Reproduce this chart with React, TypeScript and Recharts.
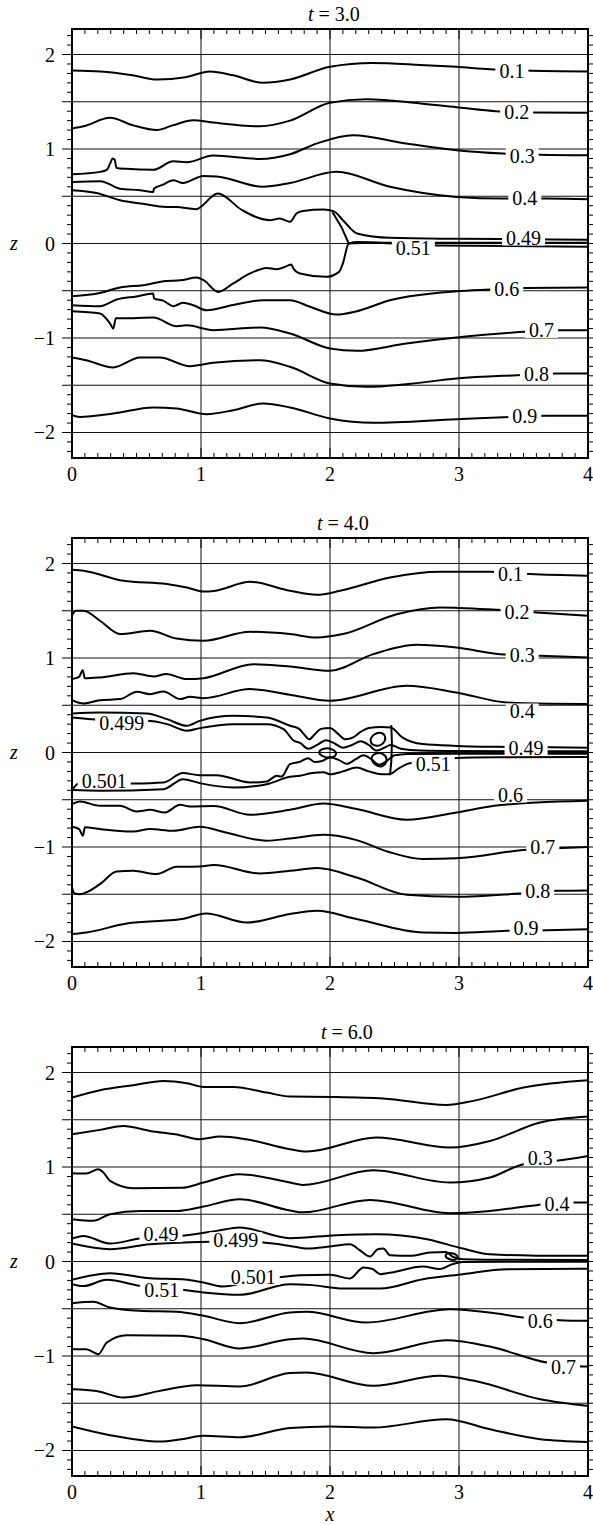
import React from "react";
import {
  LineChart,
  Line,
  XAxis,
  YAxis,
  ReferenceLine,
  ReferenceDot,
  ReferenceArea,
} from "recharts";

type Pt = [number, number];
type Curve = { id: string; pts: Pt[]; kind?: "monotone" | "linear" | "basisClosed" };
type Tag = { t: string; x: number; z: number };

// axis ticks / labels
const xLabels = [0, 1, 2, 3, 4];
const zLabels = [-2, -1, 0, 1, 2];
const gridX = [1, 2, 3];
const gridZ = [-2, -1.5, -1, -0.5, 0, 0.5, 1, 1.5, 2];
const Z_MAX = 2.27;

// ---------- t = 3.0 ----------
const t3_01: Pt[] = [[0, 1.83], [0.22, 1.82], [0.47, 1.78], [0.66, 1.735], [0.88, 1.76], [1.07, 1.82], [1.25, 1.78], [1.48, 1.7], [1.69, 1.735], [2.0, 1.87], [2.33, 1.91], [2.7, 1.89], [2.98, 1.87], [3.24, 1.845], [3.52, 1.83], [4, 1.82]];
const t3_02: Pt[] = [[0, 1.217], [0.09, 1.24], [0.295, 1.33], [0.475, 1.25], [0.656, 1.2], [0.78, 1.25], [0.94, 1.305], [1.095, 1.28], [1.457, 1.24], [1.69, 1.3], [2.0, 1.49], [2.28, 1.527], [2.72, 1.48], [3.0, 1.44], [3.29, 1.4], [3.57, 1.386], [4, 1.385]];
const t3_03: Pt[] = [[0, 0.733], [0.22, 0.758], [0.27, 0.78], [0.3, 0.86], [0.315, 0.9], [0.33, 0.89], [0.345, 0.8], [0.42, 0.79], [0.63, 0.78], [0.785, 0.87], [0.89, 0.86], [1.095, 0.93], [1.457, 0.895], [1.69, 0.945], [1.9, 1.06], [2.18, 1.146], [2.59, 1.058], [2.98, 0.987], [3.34, 0.952], [3.63, 0.94], [4, 0.935]];
const t3_04: Pt[] = [[0, 0.652], [0.22, 0.66], [0.372, 0.58], [0.527, 0.564], [0.63, 0.546], [0.635, 0.58], [0.7, 0.62], [0.785, 0.67], [0.86, 0.64], [1.02, 0.715], [1.12, 0.71], [1.48, 0.6], [1.69, 0.64], [2.05, 0.758], [2.465, 0.6], [2.98, 0.493], [3.34, 0.476], [3.68, 0.476], [4, 0.469]];
const t3_049: Pt[] = [[0, 0.564], [0.19, 0.535], [0.372, 0.458], [0.55, 0.42], [0.73, 0.387], [0.81, 0.387], [0.96, 0.363], [1.13, 0.529], [1.32, 0.352], [1.535, 0.246], [1.61, 0.264], [1.69, 0.23], [1.74, 0.317], [1.79, 0.345], [1.95, 0.36], [2.03, 0.34], [2.1, 0.247], [2.21, 0.106], [2.465, 0.06], [2.98, 0.05], [3.5, 0.045], [4, 0.04]];
const t3_050: Pt[] = [[2.02, 0.33], [2.09, 0.17], [2.145, 0.0], [2.3, 0.008], [4, 0.008]];
const t3_051: Pt[] = [[0, -0.558], [0.217, -0.523], [0.372, -0.466], [0.553, -0.441], [0.73, -0.396], [0.84, -0.39], [0.966, -0.36], [1.02, -0.388], [1.134, -0.512], [1.25, -0.423], [1.38, -0.317], [1.51, -0.258], [1.586, -0.272], [1.664, -0.24], [1.7, -0.222], [1.716, -0.265], [1.767, -0.317], [1.97, -0.353], [2.07, -0.3], [2.1, -0.21], [2.145, 0.0], [2.22, 0.015], [2.35, 0.01], [2.6, -0.01], [2.83, -0.02], [4, -0.035]];
const t3_06: Pt[] = [[0, -0.653], [0.217, -0.663], [0.346, -0.593], [0.5, -0.56], [0.63, -0.53], [0.635, -0.58], [0.71, -0.607], [0.785, -0.663], [0.86, -0.628], [0.94, -0.653], [1.043, -0.706], [1.25, -0.65], [1.48, -0.6], [1.69, -0.6], [1.845, -0.67], [2.05, -0.752], [2.2, -0.72], [2.465, -0.6], [2.98, -0.505], [3.24, -0.487], [3.515, -0.47], [4, -0.466]];
const t3_07: Pt[] = [[0, -0.716], [0.217, -0.74], [0.295, -0.847], [0.32, -0.9], [0.34, -0.79], [0.475, -0.79], [0.63, -0.783], [0.81, -0.875], [0.89, -0.865], [1.095, -0.917], [1.457, -0.889], [1.69, -0.952], [2.0, -1.111], [2.207, -1.136], [2.59, -1.058], [2.98, -0.995], [3.5, -0.935], [3.78, -0.917], [4, -0.917]];
const t3_08: Pt[] = [[0, -1.206], [0.11, -1.235], [0.32, -1.312], [0.527, -1.206], [0.68, -1.206], [0.915, -1.298], [1.095, -1.263], [1.457, -1.235], [1.69, -1.305], [2.0, -1.481], [2.285, -1.517], [2.59, -1.489], [2.98, -1.429], [3.45, -1.394], [3.76, -1.376], [4, -1.376]];
const t3_09: Pt[] = [[0, -1.817], [0.06, -1.835], [0.32, -1.8], [0.63, -1.735], [0.81, -1.745], [1.043, -1.806], [1.25, -1.764], [1.48, -1.693], [1.69, -1.735], [2.0, -1.852], [2.336, -1.898], [2.98, -1.859], [3.395, -1.835], [3.68, -1.824], [4, -1.824]];
const t3Tags: Tag[] = [
  { t: "0.1", x: 3.41, z: 1.83 }, { t: "0.2", x: 3.447, z: 1.393 }, { t: "0.3", x: 3.49, z: 0.925 },
  { t: "0.4", x: 3.51, z: 0.483 }, { t: "0.49", x: 3.5, z: 0.063 }, { t: "0.51", x: 2.646, z: -0.046 },
  { t: "0.6", x: 3.37, z: -0.484 }, { t: "0.7", x: 3.64, z: -0.914 }, { t: "0.8", x: 3.6, z: -1.38 },
  { t: "0.9", x: 3.51, z: -1.83 },
];

// ---------- t = 4.0 ----------
const t4_01: Pt[] = [[0, 1.933], [0.09, 1.923], [0.4, 1.817], [0.734, 1.782], [0.89, 1.746], [1.02, 1.704], [1.1, 1.71], [1.38, 1.806], [1.69, 1.711], [1.897, 1.669], [2.078, 1.711], [2.465, 1.852], [2.853, 1.912], [3.24, 1.912], [3.55, 1.888], [4, 1.87]];
const t4_02: Pt[] = [[0, 1.45], [0.03, 1.5], [0.09, 1.5], [0.217, 1.394], [0.372, 1.253], [0.605, 1.288], [0.81, 1.206], [1.02, 1.182], [1.38, 1.277], [1.69, 1.253], [1.897, 1.217], [2.1, 1.253], [2.517, 1.464], [2.853, 1.535], [3.29, 1.51], [3.6, 1.482], [4, 1.447]];
const t4_03: Pt[] = [[0, 0.777], [0.055, 0.8], [0.083, 0.87], [0.1, 0.785], [0.217, 0.794], [0.477, 0.84], [0.633, 0.804], [0.73, 0.83], [0.89, 0.777], [1.02, 0.787], [1.405, 0.935], [1.69, 0.91], [2.0, 0.865], [2.336, 1.041], [2.67, 1.14], [2.98, 1.111], [3.318, 1.041], [3.63, 1.023], [4, 1.005]];
const t4_04: Pt[] = [[0, 0.554], [0.09, 0.519], [0.217, 0.554], [0.372, 0.565], [0.504, 0.642], [0.605, 0.617], [0.71, 0.646], [0.837, 0.565], [0.915, 0.589], [1.02, 0.575], [1.38, 0.671], [1.69, 0.611], [2.0, 0.547], [2.594, 0.706], [2.98, 0.635], [3.37, 0.529], [3.7, 0.515], [4, 0.512]];
const t4_049: Pt[] = [[0, 0.413], [0.217, 0.423], [0.58, 0.413], [0.736, 0.353], [0.89, 0.283], [0.99, 0.335], [1.25, 0.388], [1.51, 0.37], [1.69, 0.283], [1.76, 0.25], [1.8, 0.19], [1.84, 0.14], [1.88, 0.19], [1.93, 0.25], [2.0, 0.26], [2.06, 0.2], [2.12, 0.14], [2.18, 0.16], [2.24, 0.22], [2.3, 0.26], [2.4, 0.27], [2.47, 0.265], [2.56, 0.16], [2.72, 0.089], [2.98, 0.07], [3.3, 0.06], [3.7, 0.055], [4, 0.05]];
const t4_0499: Pt[] = [[0, 0.37], [0.09, 0.36], [0.385, 0.33], [0.58, 0.335], [0.736, 0.3], [0.89, 0.23], [0.99, 0.258], [1.25, 0.3], [1.51, 0.3], [1.64, 0.247], [1.72, 0.124], [1.77, 0.1], [1.83, 0.04], [1.9, 0.08], [1.97, 0.13], [2.03, 0.1], [2.1, 0.05], [2.17, 0.08], [2.24, 0.12], [2.3, 0.08], [2.36, 0.02], [2.42, 0.05], [2.47, 0.08], [2.55, 0.04], [2.7, 0.02], [3.0, 0.015], [4, 0.012]];
const t4_0501: Pt[] = [[0, -0.4], [0.05, -0.33], [0.25, -0.33], [0.475, -0.328], [0.71, -0.317], [0.86, -0.218], [0.99, -0.24], [1.12, -0.24], [1.38, -0.317], [1.51, -0.306], [1.587, -0.247], [1.625, -0.255], [1.69, -0.123], [1.767, -0.098], [1.83, -0.06], [1.88, -0.1], [1.94, -0.09], [2.0, -0.05], [2.07, -0.08], [2.13, -0.12], [2.2, -0.07], [2.26, -0.03], [2.32, -0.07], [2.38, -0.13], [2.44, -0.09], [2.5, -0.03], [2.6, -0.015], [3.0, -0.012], [4, -0.012]];
const t4_051: Pt[] = [[0, -0.398], [0.217, -0.405], [0.71, -0.388], [0.86, -0.282], [0.99, -0.324], [1.25, -0.37], [1.51, -0.335], [1.69, -0.257], [1.767, -0.247], [1.85, -0.22], [1.95, -0.21], [2.0, -0.23], [2.1, -0.2], [2.207, -0.16], [2.3, -0.2], [2.4, -0.23], [2.465, -0.23], [2.52, -0.18], [2.6, -0.12], [2.68, -0.1], [2.8, -0.09], [2.95, -0.06], [3.3, -0.05], [4, -0.047]];
const t4_loopA: Pt[] = [[1.9, 0.0], [1.95, 0.05], [2.02, 0.04], [2.06, -0.01], [2.02, -0.06], [1.95, -0.05]];
const t4_loopB: Pt[] = [[2.3, 0.12], [2.34, 0.2], [2.4, 0.22], [2.44, 0.16], [2.41, 0.08], [2.35, 0.06]];
const t4_loopC: Pt[] = [[2.31, -0.06], [2.35, 0.0], [2.42, -0.01], [2.45, -0.08], [2.41, -0.16], [2.35, -0.14]];
const t4_stem: Pt[] = [[2.475, 0.29], [2.48, 0.1], [2.475, -0.1], [2.465, -0.24]];
const t4_06: Pt[] = [[0, -0.546], [0.06, -0.518], [0.217, -0.564], [0.372, -0.564], [0.5, -0.624], [0.605, -0.607], [0.72, -0.635], [0.837, -0.553], [0.915, -0.571], [1.1, -0.567], [1.38, -0.659], [1.69, -0.606], [1.95, -0.54], [2.207, -0.599], [2.594, -0.712], [2.98, -0.635], [3.24, -0.571], [3.6, -0.53], [4, -0.511]];
const t4_07: Pt[] = [[0, -0.786], [0.055, -0.81], [0.085, -0.88], [0.1, -0.79], [0.217, -0.81], [0.475, -0.836], [0.605, -0.81], [0.785, -0.828], [0.99, -0.786], [1.2, -0.85], [1.51, -0.934], [1.69, -0.91], [1.95, -0.871], [2.207, -0.927], [2.45, -1.05], [2.72, -1.128], [2.98, -1.12], [3.5, -1.033], [3.8, -1.01], [4, -1.0]];
const t4_08: Pt[] = [[0, -1.429], [0.02, -1.492], [0.06, -1.5], [0.217, -1.393], [0.346, -1.259], [0.475, -1.252], [0.656, -1.287], [0.81, -1.21], [0.99, -1.206], [1.1, -1.19], [1.457, -1.28], [1.69, -1.252], [1.9, -1.223], [2.207, -1.323], [2.594, -1.506], [2.98, -1.527], [3.47, -1.492], [3.76, -1.464], [4, -1.46]];
const t4_09: Pt[] = [[0, -1.922], [0.11, -1.905], [0.424, -1.81], [0.85, -1.763], [1.04, -1.704], [1.354, -1.799], [1.69, -1.71], [1.9, -1.675], [2.207, -1.763], [2.72, -1.905], [2.98, -1.91], [3.37, -1.887], [3.68, -1.88], [4, -1.87]];
const t4Tags: Tag[] = [
  { t: "0.1", x: 3.4, z: 1.885 }, { t: "0.2", x: 3.45, z: 1.49 }, { t: "0.3", x: 3.49, z: 1.035 },
  { t: "0.4", x: 3.49, z: 0.434 }, { t: "0.499", x: 0.385, z: 0.31 }, { t: "0.49", x: 3.52, z: 0.05 },
  { t: "0.501", x: 0.25, z: -0.3 }, { t: "0.51", x: 2.8, z: -0.12 }, { t: "0.6", x: 3.4, z: -0.445 },
  { t: "0.7", x: 3.65, z: -1.0 }, { t: "0.8", x: 3.61, z: -1.467 }, { t: "0.9", x: 3.52, z: -1.86 },
];

// ---------- t = 6.0 ----------
const t6_01: Pt[] = [[0, 1.735], [0.217, 1.813], [0.475, 1.866], [0.708, 1.911], [0.89, 1.887], [1.02, 1.848], [1.25, 1.848], [1.508, 1.788], [1.69, 1.746], [2.0, 1.742], [2.413, 1.725], [2.9, 1.657], [3.11, 1.7], [3.5, 1.841], [4, 1.918]];
const t6_02: Pt[] = [[0, 1.347], [0.217, 1.393], [0.398, 1.435], [0.605, 1.382], [0.837, 1.337], [0.99, 1.294], [1.15, 1.323], [1.35, 1.294], [1.69, 1.188], [1.82, 1.164], [2.36, 1.312], [2.93, 1.206], [3.24, 1.276], [3.63, 1.471], [4, 1.534]];
const t6_03: Pt[] = [[0, 0.934], [0.11, 0.93], [0.204, 0.977], [0.245, 0.94], [0.295, 0.853], [0.475, 0.776], [0.853, 0.78], [1.02, 0.836], [1.3, 0.924], [1.69, 0.836], [1.79, 0.81], [2.336, 0.966], [2.93, 0.836], [3.24, 0.889], [3.5, 1.03], [3.755, 1.065], [4, 1.117]];
const t6_04: Pt[] = [[0, 0.448], [0.165, 0.43], [0.295, 0.5], [0.527, 0.535], [0.81, 0.535], [1.02, 0.582], [1.3, 0.659], [1.69, 0.54], [1.79, 0.52], [2.31, 0.652], [2.93, 0.511], [3.24, 0.535], [3.6, 0.596], [3.886, 0.624], [4, 0.624]];
const t6_049: Pt[] = [[0, 0.243], [0.088, 0.271], [0.295, 0.19], [0.527, 0.243], [0.69, 0.26], [0.837, 0.271], [1.12, 0.324], [1.3, 0.36], [1.69, 0.247], [2.05, 0.278], [2.36, 0.289], [2.753, 0.236], [3.03, 0.137], [3.24, 0.077], [3.6, 0.062], [4, 0.06]];
const t6_0499: Pt[] = [[0, 0.19], [0.295, 0.13], [0.605, 0.183], [0.99, 0.207], [1.27, 0.215], [1.483, 0.2], [1.69, 0.165], [1.83, 0.137], [2.0, 0.159], [2.155, 0.183], [2.23, 0.12], [2.31, 0.053], [2.37, 0.13], [2.413, 0.137], [2.465, 0.067], [2.62, 0.06], [2.775, 0.095], [2.9, 0.1], [2.95, 0.05], [3.03, 0.024], [3.4, 0.018], [4, 0.017]];
const t6_0501: Pt[] = [[0, -0.194], [0.295, -0.124], [0.605, -0.177], [0.853, -0.187], [1.02, -0.222], [1.17, -0.264], [1.4, -0.2], [1.587, -0.17], [1.767, -0.145], [2.0, -0.14], [2.155, -0.18], [2.26, -0.063], [2.33, -0.08], [2.39, -0.134], [2.465, -0.12], [2.72, -0.053], [2.85, -0.08], [2.95, -0.028], [3.03, -0.005], [3.5, -0.003], [4, -0.003]];
const t6_051: Pt[] = [[0, -0.24], [0.088, -0.26], [0.27, -0.194], [0.527, -0.258], [0.695, -0.28], [0.853, -0.3], [1.02, -0.328], [1.3, -0.353], [1.69, -0.24], [1.86, -0.25], [2.1, -0.286], [2.39, -0.286], [2.72, -0.187], [3.03, -0.134], [3.37, -0.081], [4, -0.076]];
const t6_bubble: Pt[] = [[2.88, 0.07], [2.94, 0.1], [3.0, 0.06], [2.98, 0.01], [2.92, 0.02]];
const t6_06: Pt[] = [[0, -0.441], [0.165, -0.427], [0.295, -0.487], [0.527, -0.522], [0.81, -0.533], [1.02, -0.575], [1.3, -0.653], [1.69, -0.54], [1.82, -0.533], [2.28, -0.646], [2.93, -0.505], [3.24, -0.54], [3.5, -0.593], [3.78, -0.621], [4, -0.628]];
const t6_07: Pt[] = [[0, -0.928], [0.11, -0.928], [0.204, -0.981], [0.27, -0.857], [0.424, -0.78], [0.837, -0.785], [1.02, -0.822], [1.3, -0.92], [1.69, -0.822], [1.79, -0.815], [2.336, -0.97], [2.9, -0.833], [3.24, -0.9], [3.68, -1.069], [3.96, -1.11], [4, -1.11]];
const t6_08: Pt[] = [[0, -1.351], [0.19, -1.37], [0.4, -1.44], [0.68, -1.369], [0.966, -1.309], [1.3, -1.323], [1.69, -1.18], [1.82, -1.175], [2.336, -1.316], [2.85, -1.21], [3.11, -1.26], [3.63, -1.457], [4, -1.528]];
const t6_09: Pt[] = [[0, -1.746], [0.295, -1.838], [0.68, -1.905], [0.85, -1.88], [1.02, -1.845], [1.3, -1.86], [1.69, -1.762], [2.0, -1.746], [2.336, -1.757], [2.9, -1.669], [3.24, -1.775], [3.63, -1.88], [4, -1.909]];
const t6Tags: Tag[] = [
  { t: "0.3", x: 3.63, z: 1.1 }, { t: "0.4", x: 3.76, z: 0.61 }, { t: "0.49", x: 0.69, z: 0.29 },
  { t: "0.499", x: 1.27, z: 0.225 }, { t: "0.501", x: 1.405, z: -0.163 }, { t: "0.51", x: 0.695, z: -0.3 },
  { t: "0.6", x: 3.63, z: -0.625 }, { t: "0.7", x: 3.81, z: -1.12 },
];

const panels = [
  {
    title: "3.0", titleX: 308,
    curves: [
      { id: "a01", pts: t3_01 }, { id: "a02", pts: t3_02 }, { id: "a03", pts: t3_03 }, { id: "a04", pts: t3_04 },
      { id: "a049", pts: t3_049 }, { id: "a050", pts: t3_050, kind: "linear" }, { id: "a051", pts: t3_051 },
      { id: "a06", pts: t3_06 }, { id: "a07", pts: t3_07 }, { id: "a08", pts: t3_08 }, { id: "a09", pts: t3_09 },
    ] as Curve[],
    tags: t3Tags,
  },
  {
    title: "4.0", titleX: 317,
    curves: [
      { id: "b01", pts: t4_01 }, { id: "b02", pts: t4_02 }, { id: "b03", pts: t4_03 }, { id: "b04", pts: t4_04 },
      { id: "b049", pts: t4_049 }, { id: "b0499", pts: t4_0499 }, { id: "b0501", pts: t4_0501 }, { id: "b051", pts: t4_051 },
      { id: "bla", pts: t4_loopA, kind: "basisClosed" }, { id: "blb", pts: t4_loopB, kind: "basisClosed" },
      { id: "blc", pts: t4_loopC, kind: "basisClosed" }, { id: "bst", pts: t4_stem, kind: "linear" },
      { id: "b06", pts: t4_06 }, { id: "b07", pts: t4_07 }, { id: "b08", pts: t4_08 }, { id: "b09", pts: t4_09 },
    ] as Curve[],
    tags: t4Tags,
  },
  {
    title: "6.0", titleX: 321,
    curves: [
      { id: "c01", pts: t6_01 }, { id: "c02", pts: t6_02 }, { id: "c03", pts: t6_03 }, { id: "c04", pts: t6_04 },
      { id: "c049", pts: t6_049 }, { id: "c0499", pts: t6_0499 }, { id: "c0501", pts: t6_0501 }, { id: "c051", pts: t6_051 },
      { id: "cbu", pts: t6_bubble, kind: "basisClosed" },
      { id: "c06", pts: t6_06 }, { id: "c07", pts: t6_07 }, { id: "c08", pts: t6_08 }, { id: "c09", pts: t6_09 },
    ] as Curve[],
    tags: t6Tags,
  },
];

const W = 593;
const H = 509;
const PL = 72;
const PR = 588;
const PT = 29;
const PB = 458;
const FONT = "'Liberation Serif', 'DejaVu Serif', serif";

const xTicks = Array.from({ length: 41 }, (_, i) => i / 10);
const zTicks = Array.from({ length: 45 }, (_, i) => (i - 22) / 10);

const near = (a: number, b: number) => Math.abs(a - b) < 1e-6;
const fmt = (v: number) => (v < 0 ? "\u2212" + Math.abs(v) : String(v));

const XTick = (p: any) => {
  const v = p.payload.value;
  const x = p.x;
  const big = xLabels.some((l) => near(l, v));
  const len = big ? 10 : 5;
  return (
    <g>
      <line x1={x} x2={x} y1={PB} y2={PB - len} stroke="#000" strokeWidth={1} />
      <line x1={x} x2={x} y1={PT} y2={PT + len} stroke="#000" strokeWidth={1} />
      {big && (
        <text x={x} y={PB + 23} textAnchor="middle" fontFamily={FONT} fontSize={20} fill="#000">
          {fmt(v)}
        </text>
      )}
    </g>
  );
};

const ZTick = (p: any) => {
  const v = p.payload.value;
  const y = p.y;
  const big = near(v * 2, Math.round(v * 2));
  const len = big ? 10 : 5;
  const lab = zLabels.some((l) => near(l, v));
  return (
    <g>
      <line x1={PL - len} x2={PL} y1={y} y2={y} stroke="#000" strokeWidth={1} />
      <line x1={PR} x2={PR + len} y1={y} y2={y} stroke="#000" strokeWidth={1} />
      {lab && (
        <text x={55} y={y + 7} textAnchor="end" fontFamily={FONT} fontSize={20} fill="#000">
          {fmt(v)}
        </text>
      )}
    </g>
  );
};

const LabelBox = ({ cx, cy, text }: { cx: number; cy: number; text: string }) => {
  const adv = text.split("").reduce((s, c) => s + (c === "." ? 5 : 10), 0);
  const w = adv + 8;
  return (
    <g>
      <rect x={cx - w / 2} y={cy - 8} width={w} height={16} fill="#fff" />
      <text x={cx} y={cy + 7} textAnchor="middle" fontFamily={FONT} fontSize={20} fill="#000">
        {text}
      </text>
    </g>
  );
};

const rows = (pts: Pt[]) => pts.map(([x, z]) => ({ x, z }));

function Panel({ p, last }: { p: (typeof panels)[number]; last: boolean }) {
  return (
    <div style={{ position: "relative", width: W, height: H }}>
      <LineChart width={W} height={H} margin={{ top: PT, right: W - PR, bottom: 0, left: 0 }}>
        <XAxis
          type="number"
          dataKey="x"
          domain={[0, 4]}
          ticks={xTicks}
          interval={0}
          tick={(props: any) => <XTick {...props} />}
          tickLine={false}
          axisLine={false}
          height={H - PB}
          allowDataOverflow
        />
        <YAxis
          type="number"
          dataKey="z"
          domain={[-Z_MAX, Z_MAX]}
          ticks={zTicks}
          interval={0}
          tick={(props: any) => <ZTick {...props} />}
          tickLine={false}
          axisLine={false}
          width={PL}
          allowDataOverflow
        />
        {gridZ.map((v) => (
          <ReferenceLine key={"gz" + v} y={v} stroke="#111" strokeWidth={1} />
        ))}
        {gridX.map((v) => (
          <ReferenceLine key={"gx" + v} x={v} stroke="#111" strokeWidth={1} />
        ))}
        {p.curves.map((c) => (
          <Line
            key={c.id}
            data={rows(c.pts)}
            dataKey="z"
            type={c.kind ?? "monotone"}
            stroke="#000"
            strokeWidth={2}
            dot={false}
            activeDot={false}
            isAnimationActive={false}
          />
        ))}
        {p.tags.map((t) => (
          <ReferenceDot
            key={"tag" + t.t + t.x}
            x={t.x}
            y={t.z}
            r={0}
            shape={(sp: any) => <LabelBox cx={sp.cx} cy={sp.cy} text={t.t} />}
          />
        ))}
        <ReferenceArea x1={0} x2={4} y1={-Z_MAX} y2={Z_MAX} fill="none" fillOpacity={0} stroke="#000" strokeWidth={2} />
      </LineChart>
      <svg width={W} height={H} style={{ position: "absolute", left: 0, top: 0, pointerEvents: "none" }}>
        <text x={p.titleX} y={21} fontFamily={FONT} fontSize={20} fill="#000">
          <tspan fontStyle="italic">t</tspan>
          {" = " + p.title}
        </text>
        <text x={14} y={PT + Z_MAX * ((PB - PT) / (2 * Z_MAX)) + 6} textAnchor="middle" fontFamily={FONT} fontSize={20} fontStyle="italic" fill="#000">
          z
        </text>
        {last && (
          <text x={(PL + PR) / 2} y={503} textAnchor="middle" fontFamily={FONT} fontSize={20} fontStyle="italic" fill="#000">
            x
          </text>
        )}
      </svg>
    </div>
  );
}

export default function App() {
  return (
    <div style={{ position: "absolute", left: 0, top: 0, width: 593, height: 1525, background: "#fff" }}>
      {panels.map((p, i) => (
        <Panel key={p.title} p={p} last={i === panels.length - 1} />
      ))}
    </div>
  );
}
